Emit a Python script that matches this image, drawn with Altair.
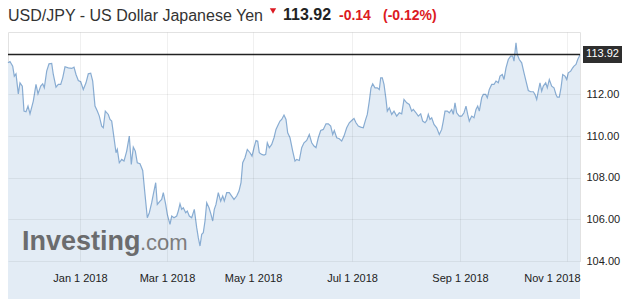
import altair as alt
import pandas as pd

# ---- data (t = position along the session axis) ----
t = [0, 2, 4.7, 6.3, 8, 10.3, 12, 14.3, 16, 18, 20, 22, 25.3, 28, 30, 32.7, 34.7, 36.3, 38.7, 41,
     43.7, 45.3, 48, 50.3, 52.7, 54.7, 57, 60.3, 63.7, 66, 68, 70.3, 72.7, 75.3, 78, 80.3, 82.7, 84.7,
     87, 89.3, 91.3, 93.7, 95.3, 97.3, 100.3, 102, 103.7, 106, 108, 109.3, 111.3, 113.7, 116, 118.7,
     121.3, 123.3, 125.3, 127.3, 129.3, 132, 134.7, 137, 139.3, 141.3, 143.7, 145.3, 147.7, 149.3, 152,
     153.7, 155.3, 157.7, 159.3, 162, 163.7, 166, 168.7, 170.3, 172, 173.7, 175.3, 177.7, 179.3, 181.3,
     183.7, 186.3, 188.7, 190.3, 192, 193.7, 195.3, 197, 198.7, 201, 203, 204.7, 206.3, 208, 210.3,
     212.7, 214.7, 216.3, 218.7, 221.3, 223.7, 226, 228.7, 231, 233, 234.7, 237, 239.3, 242, 244, 246,
     248, 249.7, 251.3, 253.7, 256, 257.7, 259.3, 261.3, 263.7, 266, 268, 270.3, 272, 273.7, 276, 278,
     279.7, 282, 284.7, 287, 288.7, 291.3, 293.7, 296, 298.7, 301.3, 303.7, 306, 308, 310.3, 312.7,
     315.3, 318, 320.3, 322.7, 324.7, 326.3, 328.7, 331.3, 333.7, 336, 338.7, 341.3, 343.7, 346, 348,
     350.3, 352.7, 355.3, 357.7, 359.3, 361.3, 363, 364.7, 367, 369.3, 371.3, 372.7, 374.3, 376, 378,
     379.3, 381.3, 383.7, 386, 388.7, 391.3, 393.7, 396, 398.7, 401.3, 403.7, 405.3, 408, 410.3, 412.7,
     414.7, 417, 418.7, 420.3, 422, 423.7, 426, 428.7, 431.3, 433.7, 435.3, 437, 439.3, 441.3, 443.7,
     445.3, 447, 448.7, 451.3, 453.7, 456, 458, 459.7, 461.3, 463.7, 466, 468, 469.7, 471.3, 473.7,
     475.3, 477.7, 479.3, 481.3, 483.7, 486, 488, 490.3, 492, 494.3, 496, 498, 500.3, 502.7, 504.7,
     506, 508, 509.3, 511.3, 513.7, 516, 518, 520.3, 522.7, 525.3, 527, 528.7, 530.3, 532, 533.7,
     535.3, 537.7, 539.3, 541.3, 543.7, 546, 548, 549.3, 551.3, 553, 554.7, 557, 558.7, 560.3, 562.7,
     564.7, 566, 568, 569.7, 571.3, 572]
price = [113.52, 113.58, 113.36, 112.88, 112.99, 112.03, 112.56, 112.40, 111.20, 111.17, 111.44, 111.07,
         111.68, 112.48, 112.03, 112.40, 112.51, 112.32, 113.12, 113.47, 113.49, 112.96, 112.35, 112.48,
         112.48, 112.80, 113.33, 113.28, 113.25, 113.31, 112.96, 112.67, 112.61, 112.24, 112.56, 112.99,
         113.02, 112.64, 111.44, 111.20, 110.96, 110.48, 110.40, 111.20, 111.04, 110.80, 110.72, 109.92,
         109.20, 109.36, 108.72, 108.88, 108.80, 109.28, 110.00, 108.64, 109.47, 109.28, 108.72, 108.67,
         108.35, 107.20, 106.08, 106.32, 106.80, 107.20, 107.76, 106.72, 106.88, 106.96, 107.28, 106.72,
         106.24, 105.76, 106.16, 106.08, 106.16, 106.40, 106.75, 106.48, 106.56, 106.32, 106.40, 106.16,
         106.08, 106.48, 105.60, 105.12, 104.72, 105.28, 105.36, 105.92, 106.80, 106.56, 106.24, 105.92,
         106.48, 106.72, 107.28, 106.88, 107.12, 106.88, 107.28, 107.28, 107.12, 106.96, 107.12, 107.36,
         107.76, 108.72, 108.96, 109.36, 109.20, 109.04, 109.44, 109.79, 109.76, 109.20, 109.12, 109.09,
         109.12, 109.68, 109.44, 109.60, 109.92, 110.32, 110.56, 110.72, 110.80, 111.01, 110.80, 110.16,
         109.92, 109.28, 108.80, 108.88, 108.83, 109.44, 109.68, 109.79, 110.08, 109.68, 109.52, 109.44,
         109.92, 110.27, 110.32, 110.59, 110.59, 110.48, 110.08, 110.27, 109.92, 109.87, 109.76, 110.00,
         110.40, 110.64, 110.75, 110.85, 110.64, 110.48, 110.43, 110.40, 110.80, 111.04, 111.68, 112.32,
         112.51, 112.32, 112.32, 112.24, 112.80, 112.80, 112.48, 111.76, 111.20, 111.36, 111.04, 111.20,
         110.96, 111.12, 111.07, 111.76, 111.60, 111.52, 111.20, 111.28, 111.12, 110.96, 111.07, 110.72,
         110.64, 110.75, 111.04, 110.80, 110.88, 110.56, 110.40, 110.08, 110.32, 110.72, 111.20, 111.20,
         111.12, 111.28, 111.04, 111.60, 111.12, 110.96, 110.96, 111.12, 111.44, 111.04, 110.72, 110.96,
         110.88, 111.28, 111.44, 111.20, 111.84, 112.00, 112.00, 111.84, 112.24, 112.48, 112.48, 112.64,
         112.56, 112.88, 112.96, 112.72, 113.28, 113.68, 113.84, 113.84, 113.60, 114.48, 113.92, 113.68,
         113.52, 113.04, 112.64, 112.19, 112.13, 112.13, 112.00, 111.76, 112.16, 112.56, 112.16, 112.40,
         112.56, 112.32, 112.72, 112.40, 112.32, 112.00, 111.87, 111.87, 112.32, 112.96, 112.88, 112.72,
         113.04, 113.12, 113.28, 113.36, 113.44, 113.68, 113.84, 113.92]

tick_t = [72, 159, 245, 344, 452, 559]
tick_labels = ["Jan 1 2018", "Mar 1 2018", "May 1 2018", "Jul 1 2018", "Sep 1 2018", "Nov 1 2018"]
y_ticks = [104, 106, 108, 110, 112]
last_price = 113.92
title_text = "USD/JPY - US Dollar Japanese Yen"
last_text = "113.92"
change_text = "-0.14"
change_pct_text = "(-0.12%)"

FONT = "Liberation Sans"
RED = "#dc1a22"

df = pd.DataFrame({"t": t, "price": price})

label_expr = ""
for v, lab in zip(tick_t, tick_labels):
    label_expr += f"datum.value == {v} ? '{lab}' : "
label_expr += "''"

x_enc = alt.X(
    "t:Q",
    scale=alt.Scale(domain=[0, 572], nice=False, zero=False),
    axis=alt.Axis(values=tick_t, labelExpr=label_expr, title=None, grid=True,
                  domain=False, ticks=False, labelPadding=11, labelFontSize=11,
                  labelColor="#222222", labelFlush=20, labelFlushOffset=13,
                  labelOverlap=False, gridColor="#000000", gridOpacity=0.06, zindex=1),
)
y_enc = alt.Y(
    "price:Q",
    scale=alt.Scale(domain=[104, 115], nice=False, zero=False),
    axis=alt.Axis(orient="right", values=y_ticks, format=".2f", title=None, grid=True,
                  domain=False, ticks=False, labelPadding=6, labelFontSize=11,
                  labelColor="#222222", gridColor="#000000", gridOpacity=0.06, zindex=1),
)

base = alt.Chart(df)
area = base.mark_area(color="#e3ecf5", opacity=1).encode(x=x_enc, y=y_enc)
line = base.mark_line(color="#88acd2", strokeWidth=1.2).encode(x="t:Q", y="price:Q")

def txt(s, x, y, size, color, bold=False, align="left"):
    return alt.Chart(pd.DataFrame({"s": [s]})).mark_text(
        align=align, baseline="alphabetic", fontSize=size, font=FONT,
        fontWeight="bold" if bold else "normal", color=color
    ).encode(x=alt.value(x), y=alt.value(y), text="s:N")

wm1 = txt("Investing", 14, 218, 27, "#6b6c6e", bold=True)
wm2 = txt(".com", 132, 218, 22, "#7d7d7d")

rule = alt.Chart(pd.DataFrame({"p": [last_price]})).mark_rule(
    color="#222222", strokeWidth=1.5).encode(y="p:Q")

box = alt.Chart(pd.DataFrame({"p": [last_price]})).mark_point(
    shape="M-1,-0.44L1,-0.44L1,0.44L-1,0.44Z", filled=True, size=1521,
    color="#2e2e2e", opacity=1).encode(x=alt.value(594.5), y="p:Q")
box_text = alt.Chart(pd.DataFrame({"p": [last_price], "s": [last_text]})).mark_text(
    align="center", baseline="middle", fontSize=11, font=FONT, color="white"
).encode(x=alt.value(594.5), y="p:Q", text="s:N")

title = txt(title_text, 0, -11, 16, "#333333")
arrow = alt.Chart(pd.DataFrame({"a": [1]})).mark_point(
    shape="triangle-down", filled=True, size=40, color=RED, opacity=1
).encode(x=alt.value(265), y=alt.value(-21))
last_t = txt(last_text, 275, -12, 16, "#222222", bold=True)
chg = txt(change_text, 331, -12, 14, RED, bold=True)
chg_pct = txt(change_pct_text, 375, -12, 14, RED, bold=True)

chart = alt.layer(
    area, wm1, wm2, line, rule, box, box_text, title, arrow, last_t, chg, chg_pct
).properties(
    width=572, height=229,
    autosize=alt.AutoSizeParams(type="none"),
    padding={"left": 8, "top": 32, "right": 50, "bottom": 38},
).configure(font=FONT, background="white").configure_view(
    stroke="#e2e2e2", strokeWidth=1
)

chart.save("out.html", embed_options={"renderer": "svg", "actions": False})
